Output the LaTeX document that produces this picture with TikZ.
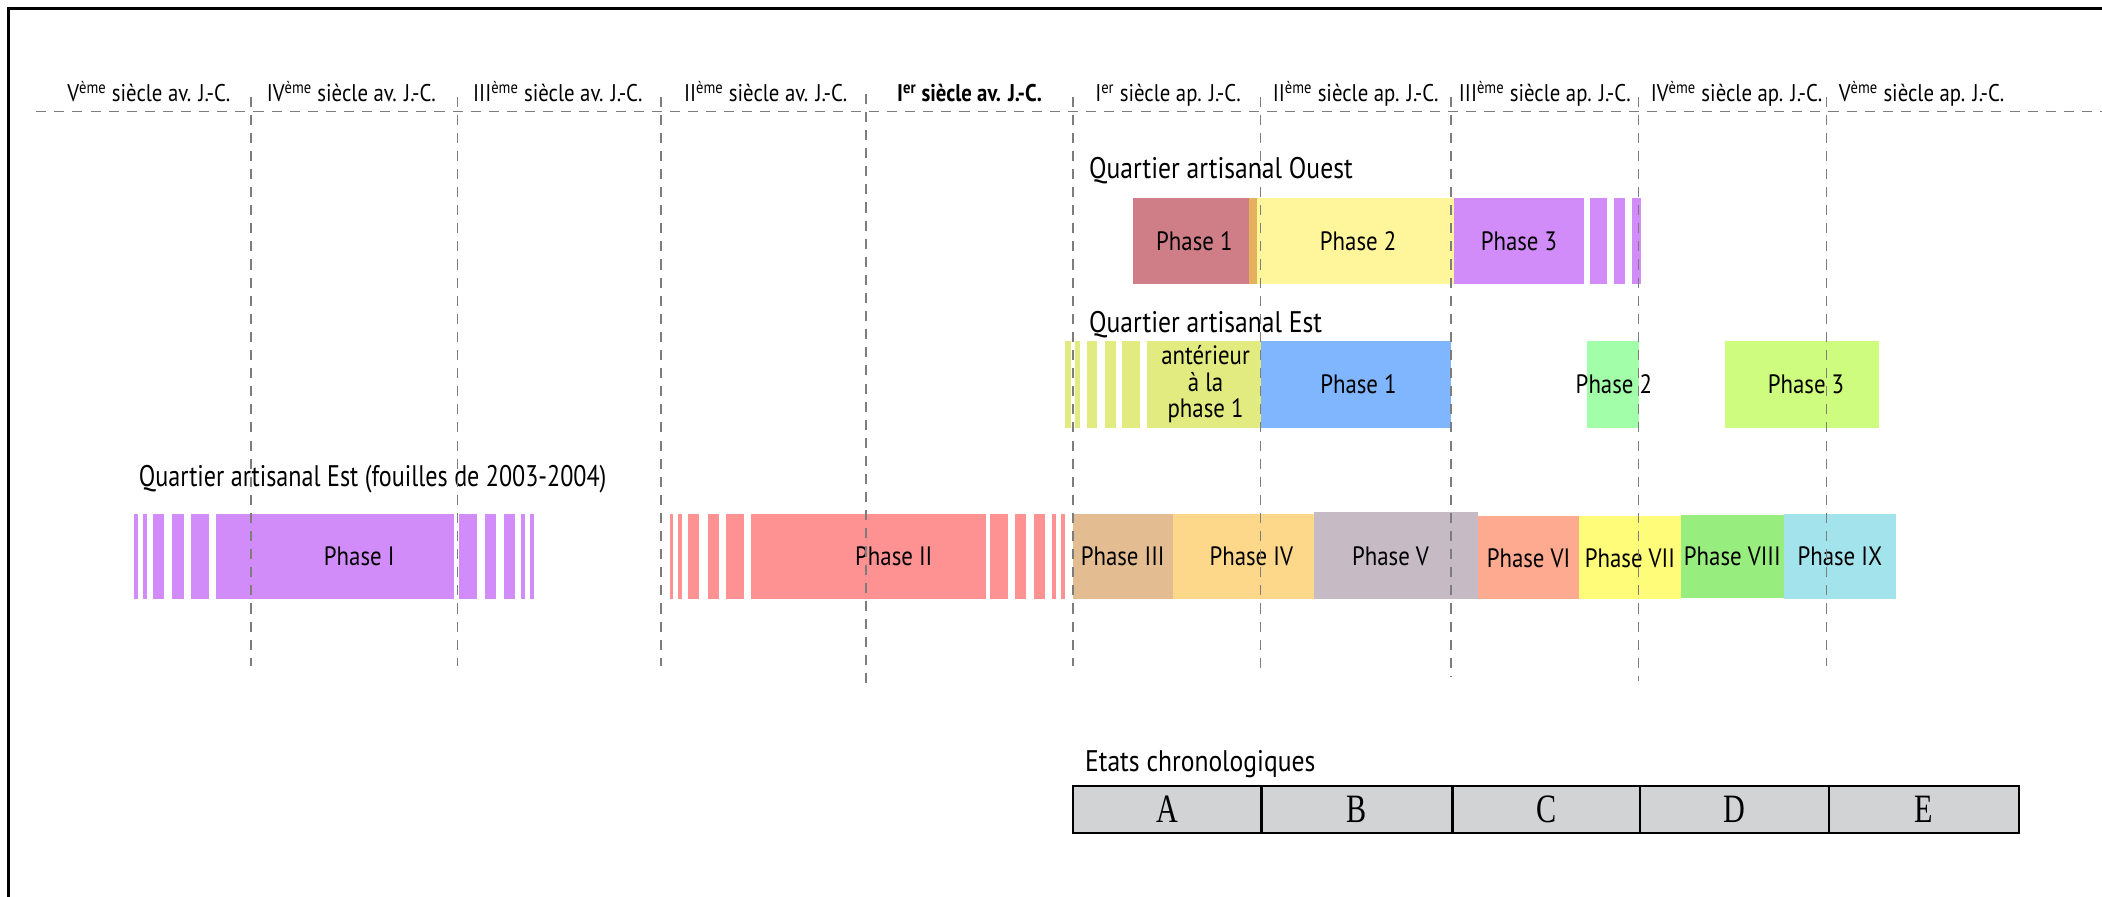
\documentclass[tikz,border=0pt]{standalone}
\usepackage{fontspec}
\setmainfont{PT Sans}[FakeStretch=0.86]
\newfontfamily\narrowfont{PT Sans}[FakeStretch=0.81]
\newfontfamily\tablefont{Liberation Serif}[FakeStretch=0.75]
\definecolor{dashgray}{HTML}{7D7D7D}
\definecolor{rose}{HTML}{CF7E88}
\definecolor{orangestrip}{HTML}{E5B15E}
\definecolor{paleyellow}{HTML}{FFF69C}
\definecolor{purple1}{HTML}{D18CF9}
\definecolor{olive}{HTML}{E2EB7F}
\definecolor{blue1}{HTML}{80B6FE}
\definecolor{green1}{HTML}{A3FEA9}
\definecolor{lime1}{HTML}{CEFC7E}
\definecolor{pink1}{HTML}{FE9191}
\definecolor{tan1}{HTML}{E3BD91}
\definecolor{apricot}{HTML}{FDD88B}
\definecolor{mauve}{HTML}{C6BBC4}
\definecolor{salmon}{HTML}{FDAA90}
\definecolor{yellow1}{HTML}{FFFC7A}
\definecolor{green2}{HTML}{97EE7F}
\definecolor{cyan1}{HTML}{A3E4EC}
\definecolor{cellgray}{HTML}{D1D3D4}
\newcommand\phasebox[8]{%
  \node[phasebg, fill=#2, minimum width={#4-#3}, minimum height={#6-#5}] (#1) at (#3,#5) {};
  \node[phaselbl] (#1-t) at ([xshift=#8]#1.center) {#7};}
\begin{document}
\begin{tikzpicture}[x=1pt,y=-1pt,
  phasebg/.style={inner sep=0pt, outer sep=0pt, anchor=north west, draw=none},
  phaselbl/.style={inner sep=0pt, align=center, font=\fontsize{19.8}{20}\selectfont},
  century/.style={inner sep=0pt, anchor=base, font=\fontsize{18}{20}\selectfont},
  title/.style={inner sep=0pt, anchor=base west, font=\fontsize{22.2}{24}\selectfont},
  guide/.style={draw=dashgray, line width=1.1pt, dash pattern=on 7.5pt off 6pt},
  cell/.style={draw=black, line width=1.8pt, fill=cellgray, inner sep=0pt, outer sep=0pt, anchor=north west, minimum height=35pt, font=\tablefont\fontsize{30}{30}\selectfont}]
\useasboundingbox (0,0) rectangle (1567.5,668.2);
% frame
\draw[line width=2.2pt] (6.3,669) -- (6.3,6.3) -- (1568,6.3);
% century labels
\node[century] (c1) at (111,76) {V\textsuperscript{ème} siècle av. J.-C.};
\node[century] (c2) at (262,76) {IV\textsuperscript{ème} siècle av. J.-C.};
\node[century] (c3) at (416,76) {III\textsuperscript{ème} siècle av. J.-C.};
\node[century] (c4) at (571,76) {II\textsuperscript{ème} siècle av. J.-C.};
\node[century] (c5) at (723,76) {\bfseries I\textsuperscript{er} siècle av. J.-C.};
\node[century] (c6) at (871,76) {I\textsuperscript{er} siècle ap. J.-C.};
\node[century] (c7) at (1011,76) {II\textsuperscript{ème} siècle ap. J.-C.};
\node[century] (c8) at (1152,76) {III\textsuperscript{ème} siècle ap. J.-C.};
\node[century] (c9) at (1295,76) {IV\textsuperscript{ème} siècle ap. J.-C.};
\node[century] (c10) at (1433,76) {V\textsuperscript{ème} siècle ap. J.-C.};
% Quartier artisanal Ouest
\node[title] (tOuest) at (812,133) {Quartier artisanal Ouest};
\phasebox{o1}{rose}{844.7}{931.2}{148}{212}{Phase 1}{2.7pt}
\fill[orangestrip] (931.2,148) rectangle (937.5,212);
\phasebox{o2}{paleyellow}{937.5}{1084}{148}{212}{Phase 2}{2pt}
\phasebox{o3}{purple1}{1084}{1181.4}{148}{212}{Phase 3}{0pt}
\foreach \a/\b in {1185.4/1198.6, 1203.7/1212, 1217/1224}
  \fill[purple1] (\a,148) rectangle (\b,212);
% Quartier artisanal Est
\node[title] (tEst) at (812,248) {Quartier artisanal Est};
\foreach \a/\b in {794.4/798.7, 801.7/805.1, 810.3/818, 824/832, 836.8/850}
  \fill[olive] (\a,254) rectangle (\b,319);
\phasebox{e0}{olive}{855.2}{940}{254}{319}{antérieur\\à la\\phase 1}{1.4pt}
\phasebox{e1}{blue1}{940}{1082}{254}{319}{Phase 1}{2pt}
\phasebox{e2}{green1}{1183.8}{1222}{254}{319}{Phase 2}{0.6pt}
\phasebox{e3}{lime1}{1286.5}{1401}{254}{319}{Phase 3}{3pt}
% Quartier artisanal Est (fouilles 2003-2004)
\node[title, font=\narrowfont\fontsize{22.2}{24}\selectfont] (tFouilles) at (103.4,363) {Quartier artisanal Est (fouilles de 2003-2004)};
\foreach \a/\b in {100.1/102.9, 106.6/109.7, 114.2/122.5, 128.6/136.9, 142.2/155.8,
                   342.4/356, 361.3/369.6, 375.7/384, 388.5/391.5, 395.3/398.3}
  \fill[purple1] (\a,383) rectangle (\b,447);
\phasebox{f1}{purple1}{161.1}{338.6}{383}{447}{Phase I}{18pt}
\foreach \a/\b in {499.5/502.2, 505.9/508.9, 513.4/521.6, 527.6/535.8, 541.1/554.5,
                   738.3/751.7, 756.9/765.2, 771.1/779.4, 784.6/787.6, 791.3/794.3}
  \fill[pink1] (\a,383) rectangle (\b,447);
\phasebox{f2}{pink1}{559.7}{735.3}{383}{447}{Phase II}{19pt}
\phasebox{f3}{tan1}{800}{874.4}{383}{447}{Phase III}{0pt}
\phasebox{f4}{apricot}{874.4}{979.8}{383}{447}{Phase IV}{6pt}
\phasebox{f5}{mauve}{979.8}{1102}{382}{447}{Phase V}{-4pt}
\phasebox{f6}{salmon}{1102}{1177.7}{385}{447}{Phase VI}{0pt}
\phasebox{f7}{yellow1}{1177.7}{1253.2}{385}{447}{Phase VII}{0pt}
\phasebox{f8}{green2}{1253.7}{1330}{384}{446}{Phase VIII}{0pt}
\phasebox{f9}{cyan1}{1330}{1414}{383}{447}{Phase IX}{0pt}
% guide lines
\coordinate (hL) at (27,83);
\coordinate (hR) at (1568,83);
\draw[guide] (hL) -- (hR);
\foreach \x/\b in {187/497, 341/497, 493/497, 800/497, 940/500, 1082/505, 1222/508, 1362/497}{
  \coordinate (gt\x) at (\x,72);
  \coordinate (gb\x) at (\x,\b);
  \draw[guide] (gt\x) -- (gb\x);}
\coordinate (gt646) at (646,70);
\coordinate (gb646) at (646,510);
\draw[guide, line width=1.7pt] (gt646) -- (gb646);
% Etats chronologiques
\node[title] (tEtats) at (809,575) {Etats chronologiques};
\node[cell, minimum width=140.7pt] (A) at (800,586) {A};
\node[cell, minimum width=142.3pt] (B) at (940.7,586) {B};
\node[cell, minimum width=140pt] (C) at (1083,586) {C};
\node[cell, minimum width=141pt] (D) at (1223,586) {D};
\node[cell, minimum width=141.6pt] (E) at (1364,586) {E};
\end{tikzpicture}
\end{document}
